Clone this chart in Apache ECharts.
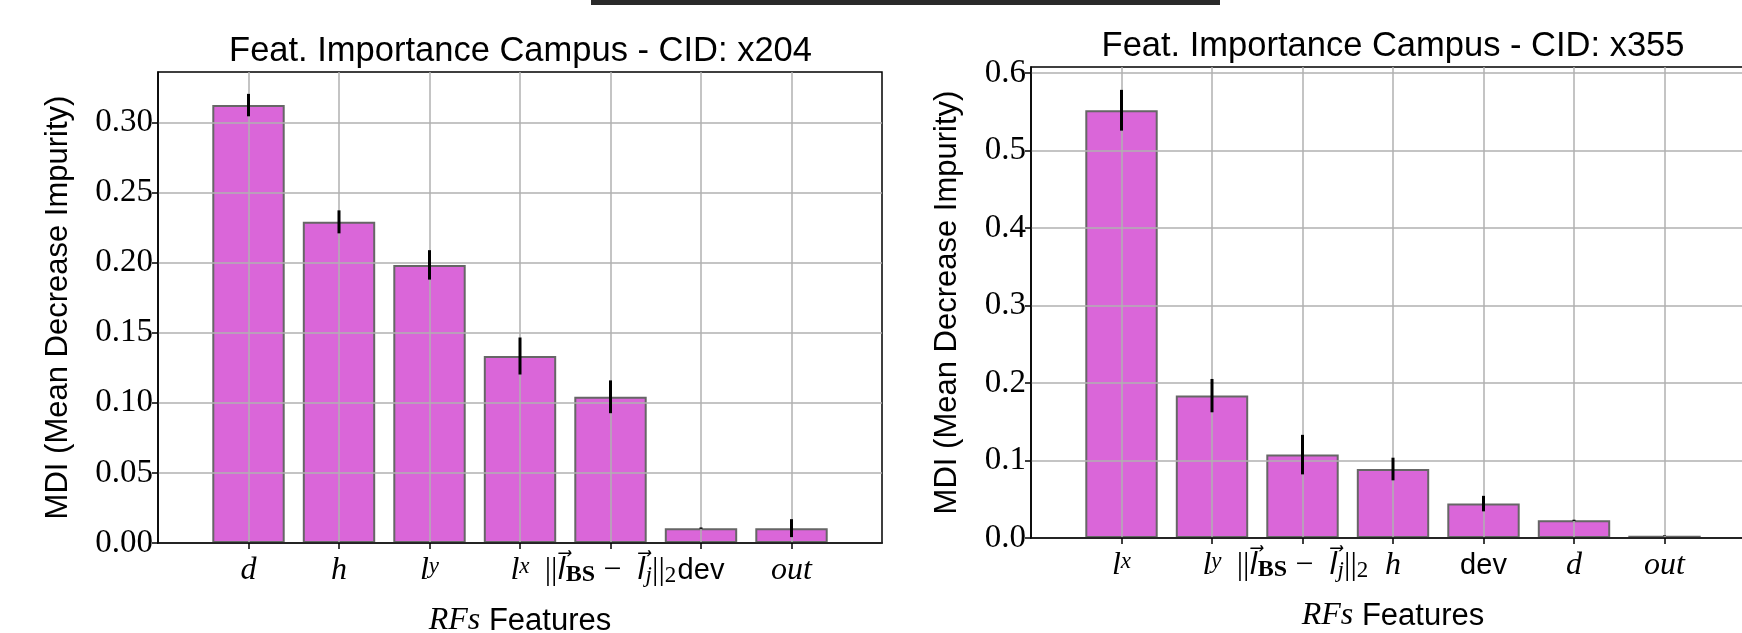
<!DOCTYPE html>
<html>
<head>
<meta charset="UTF-8">
<script src="https://cdn.jsdelivr.net/npm/echarts@6/dist/echarts.min.js"></script>
<title>Feat. Importance Campus</title>
</head>
<body style="margin:0;background:#fff;">
<div id="main" style="width:1742px;height:633px;"></div>
<script>
// CID x204
var featA = ['d', 'h', 'ly', 'lx', 'norm', 'dev', 'out'];
var mdiA = [0.3124, 0.2291, 0.1984, 0.1334, 0.1043, 0.0106, 0.0106];
var errA = [0.0080, 0.0082, 0.0105, 0.0132, 0.0117, 0.0005, 0.0064];
// CID x355
var featB = ['lx', 'ly', 'norm', 'h', 'dev', 'd', 'out'];
var mdiB = [0.5519, 0.1837, 0.1076, 0.0890, 0.0444, 0.0228, 0.0030];
var errB = [0.0263, 0.0215, 0.0255, 0.0146, 0.0100, 0.0008, 0.0004];

var yTicksA = [0, 0.05, 0.10, 0.15, 0.20, 0.25, 0.30];
var yTicksB = [0, 0.1, 0.2, 0.3, 0.4, 0.5, 0.6];
var xTicks = [0, 1, 2, 3, 4, 5, 6];

var labelText = {
  d: '{it|d}',
  h: '{it|h}',
  ly: '{it|l}{sup|y}',
  lx: '{it|l}{sup|x}',
  norm: '{rm|||}{vec|l\u20d7}{bf|BS}{rm| \u2212  }{vec|l\u20d7}{subi|j}{rm|||}{sub|2}',
  dev: '{sf|dev}',
  out: '{it|out}'
};

var serif = 'Liberation Serif';
var sans = 'Liberation Sans';
var rich = {
  rm: {fontFamily: serif, fontSize: 32, lineHeight: 32, color: '#000'},
  it: {fontFamily: serif, fontStyle: 'italic', fontSize: 32, lineHeight: 32, color: '#000'},
  vec: {fontFamily: 'DejaVu Sans', fontStyle: 'italic', fontSize: 30, lineHeight: 32, color: '#000'},
  sup: {fontFamily: serif, fontStyle: 'italic', fontSize: 23, lineHeight: 21, verticalAlign: 'top', color: '#000'},
  sub: {fontFamily: serif, fontSize: 23, lineHeight: 24, verticalAlign: 'bottom', color: '#000'},
  subi: {fontFamily: serif, fontStyle: 'italic', fontSize: 23, lineHeight: 24, verticalAlign: 'bottom', color: '#000'},
  bf: {fontFamily: serif, fontWeight: 'bold', fontSize: 24, lineHeight: 24, verticalAlign: 'bottom', color: '#000'},
  sf: {fontFamily: sans, fontSize: 29, lineHeight: 32, color: '#000'}
};
var nameRich = {
  it: {fontFamily: serif, fontStyle: 'italic', fontSize: 32, color: '#000'},
  sf: {fontFamily: sans, fontSize: 31, color: '#000'}
};

function xAxisFor(idx, feats) {
  return {
    gridIndex: idx, type: 'value', min: -1, max: 7, interval: 1, z: 3,
    name: '{it|RFs}{sf| Features}', nameLocation: 'middle', nameGap: 62,
    nameTextStyle: {rich: nameRich},
    axisLine: {onZero: false, lineStyle: {color: '#000', width: 1.5}},
    axisTick: {length: 6, lineStyle: {color: '#000', width: 1.5}, customValues: xTicks},
    axisLabel: {margin: 12, rich: rich, customValues: xTicks,
      formatter: function (v) { return labelText[feats[v]] || ''; }},
    splitLine: {show: true, lineStyle: {color: '#b0b0b0', width: 1.5}}
  };
}
function yAxisFor(idx, max, ticks, dec, gap) {
  return {
    gridIndex: idx, type: 'value', min: 0, max: max, z: 3,
    name: 'MDI (Mean Decrease Impurity)', nameLocation: 'middle', nameGap: gap, nameRotate: 90,
    nameTextStyle: {fontFamily: sans, fontSize: 31, color: '#000'},
    axisLine: {show: true, onZero: false, lineStyle: {color: '#000', width: 1.5}},
    axisTick: {show: true, length: 6, lineStyle: {color: '#000', width: 1.5}, customValues: ticks},
    axisLabel: {margin: 5, fontFamily: serif, fontSize: 33, color: '#000', customValues: ticks,
      formatter: function (v) { return v.toFixed(dec); }},
    splitLine: {show: true, lineStyle: {color: '#b0b0b0', width: 1.5}}
  };
}
function barSeries(idx, vals) {
  return {
    type: 'bar', xAxisIndex: idx, yAxisIndex: idx, barWidth: '80%',
    data: vals.map(function (v, i) { return [i, v]; }),
    itemStyle: {color: '#da66d9', borderColor: '#666666', borderWidth: 2}
  };
}
function errSeries(idx, vals, errs) {
  return {
    type: 'custom', xAxisIndex: idx, yAxisIndex: idx, z: 10,
    data: vals.map(function (v, i) { return [i, v - errs[i], v + errs[i]]; }),
    encode: {x: 0, y: [1, 2]},
    renderItem: function (params, api) {
      var lo = api.coord([api.value(0), api.value(1)]);
      var hi = api.coord([api.value(0), api.value(2)]);
      return {type: 'line', shape: {x1: lo[0], y1: lo[1], x2: hi[0], y2: hi[1]},
        style: {stroke: '#000', lineWidth: 3}};
    }
  };
}

var chart = echarts.init(document.getElementById('main'));
var titleStyle = {fontFamily: sans, fontSize: 34.5, fontWeight: 'normal', color: '#000'};
chart.setOption({
  animation: false,
  backgroundColor: '#fff',
  title: [
    {text: 'Feat. Importance Campus - CID: x204', left: 520.5, top: 34, textAlign: 'center', padding: 0, textStyle: titleStyle},
    {text: 'Feat. Importance Campus - CID: x355', left: 1393, top: 29, textAlign: 'center', padding: 0, textStyle: titleStyle}
  ],
  grid: [
    {left: 158, top: 72, width: 724, height: 471, show: true, borderColor: '#000', borderWidth: 1.5,
      containLabel: false, outerBoundsMode: 'none'},
    {left: 1031, top: 67, width: 724, height: 471, show: true, borderColor: '#000', borderWidth: 1.5,
      containLabel: false, outerBoundsMode: 'none'}
  ],
  xAxis: [xAxisFor(0, featA), xAxisFor(1, featB)],
  yAxis: [yAxisFor(0, 0.336, yTicksA, 2, 84), yAxisFor(1, 0.6077, yTicksB, 1, 68)],
  series: [barSeries(0, mdiA), errSeries(0, mdiA, errA), barSeries(1, mdiB), errSeries(1, mdiB, errB)],
  graphic: [{type: 'rect', left: 591, top: 0, shape: {width: 629, height: 5}, style: {fill: '#2a2a2a'}}]
});
</script>
</body>
</html>
